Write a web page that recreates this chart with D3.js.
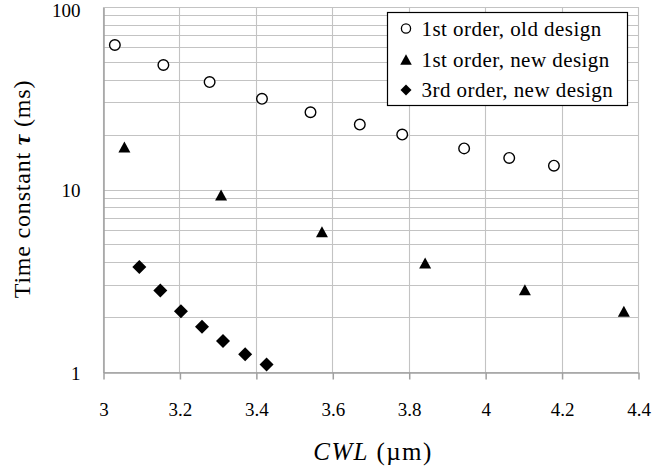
<!DOCTYPE html>
<html>
<head>
<meta charset="utf-8">
<script src="https://cdn.jsdelivr.net/npm/d3@7"></script>
<style>
  html, body { margin: 0; padding: 0; background: #fff; }
  svg { display: block; }
</style>
</head>
<body>
<svg id="chart" width="652" height="473"></svg>
<script>
// Time constant versus cut-off wavelength for three designs
const oldFirstCwl = [3.031, 3.158, 3.279, 3.416, 3.543, 3.672, 3.783, 3.945, 4.063, 4.180];
const oldFirstTau = [61.9, 48.1, 38.8, 31.4, 26.5, 22.7, 20.0, 16.8, 14.9, 13.5];

const newFirstCwl = [3.056, 3.309, 3.573, 3.843, 4.104, 4.363];
const newFirstTau = [17.1, 9.34, 5.86, 3.95, 2.82, 2.15];

const newThirdCwl = [3.095, 3.150, 3.204, 3.259, 3.314, 3.372, 3.428];
const newThirdTau = [3.76, 2.80, 2.15, 1.77, 1.48, 1.25, 1.10];

const xTicks = [3, 3.2, 3.4, 3.6, 3.8, 4, 4.2, 4.4];
const yTicks = [1, 10, 100];
const legendLabels = ["1st order, old design", "1st order, new design", "3rd order, new design"];

const FONT = '"Liberation Serif", "Times New Roman", serif';

const svg = d3.select("#chart");
const plotL = 103, plotR = 638, plotT = 7, plotB = 372;

const x = d3.scaleLinear().domain([3, 4.4]).range([plotL, plotR]);
const y = d3.scaleLog().domain([1, 100]).range([plotB, plotT]);

const gridColor = "#c3c3c3";

// minor + major horizontal gridlines (log decades)
const yGrid = [];
for (let d = 1; d < 100; d *= 10) {
  for (let k = 1; k <= 9; k++) yGrid.push(d * k);
}
yGrid.push(100);

svg.append("g")
  .selectAll("line")
  .data(yGrid)
  .join("line")
  .attr("x1", plotL).attr("x2", plotR)
  .attr("y1", d => Math.round(y(d)) + 0.5)
  .attr("y2", d => Math.round(y(d)) + 0.5)
  .attr("stroke", gridColor)
  .attr("stroke-width", 1.1);

// vertical gridlines
svg.append("g")
  .selectAll("line")
  .data(xTicks)
  .join("line")
  .attr("x1", d => Math.round(x(d)) + 0.5)
  .attr("x2", d => Math.round(x(d)) + 0.5)
  .attr("y1", plotT)
  .attr("y2", plotB)
  .attr("stroke", gridColor)
  .attr("stroke-width", 1.1);

// bottom axis with outward ticks
const xAxis = d3.axisBottom(x)
  .tickValues(xTicks)
  .tickSize(7)
  .tickSizeOuter(0)
  .tickPadding(23)
  .tickFormat(d3.format("~g"));

const gx = svg.append("g")
  .attr("transform", `translate(0.5,${plotB + 0.5})`)
  .call(xAxis);
gx.attr("font-family", FONT);
gx.select(".domain").attr("stroke", "#a0a0a0").attr("stroke-width", 1.5);
gx.selectAll(".tick line").attr("stroke", "#a0a0a0").attr("stroke-width", 1.5);
gx.selectAll(".tick text")
  .attr("font-family", FONT)
  .attr("font-size", 19)
  .attr("fill", "#000");

// left axis line (no tick marks)
const yAxis = d3.axisLeft(y)
  .tickValues(yTicks)
  .tickSize(0)
  .tickPadding(23)
  .tickFormat(d3.format("d"));

const gy = svg.append("g")
  .attr("transform", `translate(${plotL + 0.5},0.5)`)
  .call(yAxis);
gy.attr("font-family", FONT);
gy.select(".domain").attr("stroke", "#a0a0a0").attr("stroke-width", 1.5);
gy.selectAll(".tick text")
  .attr("font-family", FONT)
  .attr("font-size", 19)
  .attr("fill", "#000")
  // keep the topmost label inside the drawing
  .attr("dy", d => d === 100 ? "0.48em" : "0.36em");

// axis titles
const xt = svg.append("text")
  .attr("x", 373)
  .attr("y", 460)
  .attr("text-anchor", "middle")
  .attr("font-family", FONT)
  .attr("font-size", 25)
  .attr("letter-spacing", 1.4)
  .attr("fill", "#000");
xt.append("tspan").attr("font-style", "italic").text("CWL");
xt.append("tspan").text(" (µm)");

const yt = svg.append("text")
  .attr("transform", "translate(30,189) rotate(-90)")
  .attr("text-anchor", "middle")
  .attr("font-family", FONT)
  .attr("font-size", 24)
  .attr("letter-spacing", 0.8)
  .attr("fill", "#000");
yt.append("tspan").text("Time constant ");
yt.append("tspan").attr("font-weight", "bold").attr("font-style", "italic").text("τ");
yt.append("tspan").text(" (ms)");

// marker shapes
const triPath = s => `M0,${-s}L${s * 1.09},${s}L${-s * 1.09},${s}Z`;
const diaPath = s => `M0,${-s}L${s},0L0,${s}L${-s},0Z`;

// 1st order, old design: open circles
svg.append("g")
  .selectAll("circle")
  .data(oldFirstCwl.map((c, i) => [c, oldFirstTau[i]]))
  .join("circle")
  .attr("cx", d => x(d[0]))
  .attr("cy", d => y(d[1]))
  .attr("r", 5.3)
  .attr("fill", "#fff")
  .attr("stroke", "#000")
  .attr("stroke-width", 1.4);

// 1st order, new design: filled triangles
svg.append("g")
  .selectAll("path")
  .data(newFirstCwl.map((c, i) => [c, newFirstTau[i]]))
  .join("path")
  .attr("transform", d => `translate(${x(d[0])},${y(d[1])})`)
  .attr("d", triPath(5.5))
  .attr("fill", "#000");

// 3rd order, new design: filled diamonds
svg.append("g")
  .selectAll("path")
  .data(newThirdCwl.map((c, i) => [c, newThirdTau[i]]))
  .join("path")
  .attr("transform", d => `translate(${x(d[0])},${y(d[1])})`)
  .attr("d", diaPath(7))
  .attr("fill", "#000");

// legend
const lg = svg.append("g");
lg.append("rect")
  .attr("x", 387.5).attr("y", 12.5)
  .attr("width", 240).attr("height", 93)
  .attr("fill", "#fff")
  .attr("stroke", "#000")
  .attr("stroke-width", 1.2);

const rowY = [28.5, 59.5, 90];
lg.append("circle")
  .attr("cx", 406).attr("cy", rowY[0]).attr("r", 4.6)
  .attr("fill", "#fff").attr("stroke", "#000").attr("stroke-width", 1.3);
lg.append("path")
  .attr("transform", `translate(406,${rowY[1]})`)
  .attr("d", triPath(5.3)).attr("fill", "#000");
lg.append("path")
  .attr("transform", `translate(406,${rowY[2]})`)
  .attr("d", diaPath(5.5)).attr("fill", "#000");

lg.selectAll("text.lab")
  .data(legendLabels)
  .join("text")
  .attr("class", "lab")
  .attr("x", 421.5)
  .attr("y", (d, i) => rowY[i] + 7)
  .attr("font-family", FONT)
  .attr("font-size", 21)
  .attr("letter-spacing", 0.45)
  .attr("fill", "#000")
  .text(d => d);
</script>
</body>
</html>
